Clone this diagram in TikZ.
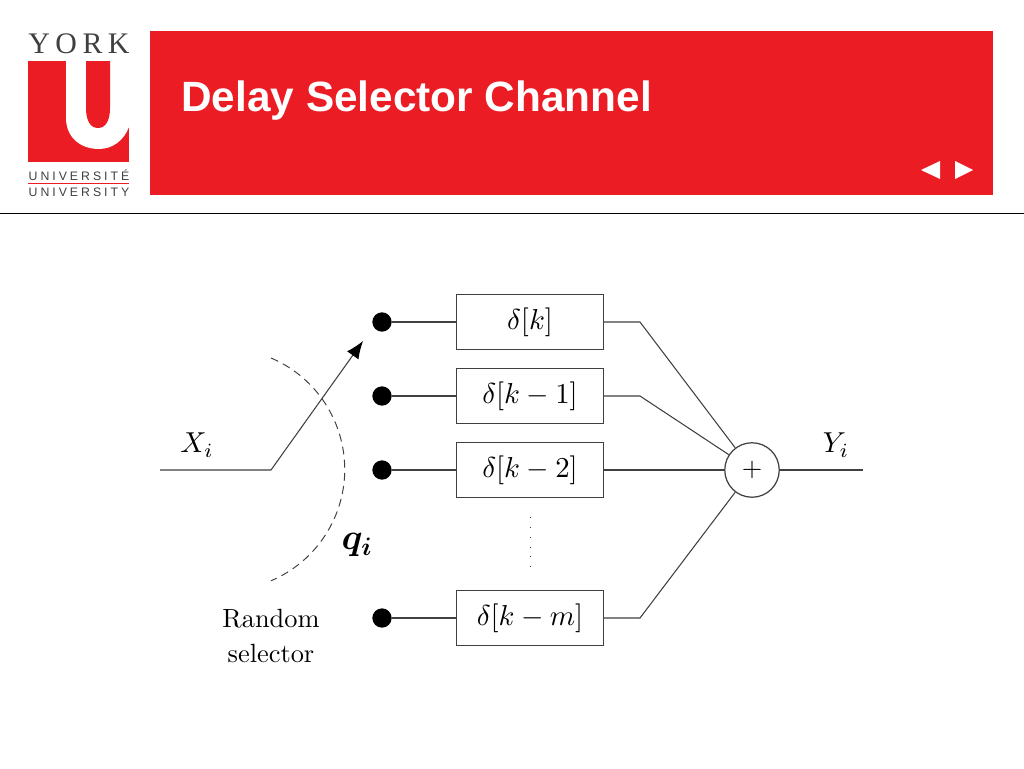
\documentclass[tikz,border=0pt]{standalone}
\usepackage{fontspec}
\setmainfont{Liberation Sans}
\newfontfamily\serifrm{lmroman10-regular}[Extension=.otf]
\newfontfamily\logorm{Liberation Serif}
\usetikzlibrary{arrows.meta,calc}
\definecolor{yorkred}{HTML}{EC1C24}
\definecolor{wire}{HTML}{404040}
\def\scaledmath#1#2{\scalebox{#1}{$#2$}}
\tikzset{
	wireline/.style={draw=wire, line width=0.6pt},
	delaybox/.style={draw=wire, line width=0.7pt, minimum width=83.4pt, minimum height=31pt, inner sep=0pt},
	tapdot/.style={circle, fill=black, minimum size=11pt, inner sep=0pt},
	sumnode/.style={circle, draw=wire, line width=0.7pt, minimum size=31pt, inner sep=0pt},
	mathlabel/.style={inner sep=0pt},
	logoline/.style={inner sep=0pt, text=black!75, font=\fontsize{7}{8}\selectfont}
}
\begin{document}
\begin{tikzpicture}[x=0.02cm, y=-0.02cm]
	\useasboundingbox (0,0) rectangle (1024,768);
	\fill[white] (0,0) rectangle (1024,768);

	% header
	\fill[yorkred] (150,31) rectangle (993,195);
	\node[anchor=base west, inner sep=0pt, text=white, font=\fontsize{24.1}{28}\selectfont\bfseries] (title) at (181,111) {Delay Selector Channel};
	\fill[white] (921,170) -- (940,161) -- (940,179) -- cycle;
	\fill[white] (973,170) -- (955,161) -- (955,179) -- cycle;
	\draw[black, line width=0.55pt] (0,213) -- (1024,213);

	% logo
	\node[inner sep=0pt, text=black!75, font=\fontsize{17}{20}\selectfont\logorm] (york) at (79,43.5) {\makebox[57.5pt][s]{Y\hfill O\hfill R\hfill K}};
	\fill[yorkred] (28,61) rectangle (129,162);
	\fill[white] (66,61) -- (66,118) .. controls (66,137) and (80,149) .. (99,149) .. controls (113,149) and (124,140) .. (129,127) -- (129,61) -- cycle;
	\fill[yorkred] (86,61) -- (86,108) .. controls (86,120) and (90,128) .. (98,128) .. controls (106,128) and (110,120) .. (110,108) -- (110,61) -- cycle;
	\node[logoline] (fr) at (79,175) {\makebox[57.3pt][s]{U\hfill N\hfill I\hfill V\hfill E\hfill R\hfill S\hfill I\hfill T\hfill É}};
	\draw[yorkred, line width=0.5pt] (28,183) -- (129,183);
	\node[logoline] (en) at (79,192.5) {\makebox[57.3pt][s]{U\hfill N\hfill I\hfill V\hfill E\hfill R\hfill S\hfill I\hfill T\hfill Y}};

	% delay lines
	\foreach \name/\ypos/\txt in {a/322/{\delta[k]}, b/396/{\delta[k-1]}, c/470/{\delta[k-2]}, d/618/{\delta[k-m]}}{
		\node[tapdot] (dot\name) at (382,\ypos) {};
		\node[delaybox] (box\name) at (530,\ypos) {\raisebox{-1pt}{\scaledmath{1.64}{\txt}}};
		\coordinate (knee\name) at (640,\ypos);
		\draw[wireline] (dot\name) -- (box\name);
	}
	\node[sumnode] (sum) at (752,470) {\raisebox{-1pt}{\scaledmath{1.5}{+}}};
	\foreach \name in {a,b,d}{
		\draw[wireline] (box\name) -- (knee\name) -- (sum);
	}
	\draw[wireline] (boxc) -- (sum);

	\coordinate (dotstop) at (530,517);
	\coordinate (dotsbot) at (530,569);
	\draw[wire, line width=0.5pt, dash pattern=on 0.6pt off 5pt] (dotstop) -- (dotsbot);

	% output
	\coordinate (yend) at (863,470);
	\draw[wireline] (sum) -- (yend);
	\node[mathlabel] (ylabel) at (836,445) {\scaledmath{1.64}{Y_i}};

	% switch
	\coordinate (xstart) at (160,470);
	\coordinate (xknee) at (271,470);
	\coordinate (xtip) at (363,341);
	\draw[wireline, -{Latex[length=10pt, width=8pt, color=black]}] (xstart) -- (xknee) -- (xtip);
	\node[mathlabel] (xlabel) at (197,445) {\scaledmath{1.64}{X_i}};

	\draw[wire, line width=0.55pt, dash pattern=on 4.5pt off 3pt] (271,358) arc[start angle=-67, end angle=67, radius=121];
	\node[inner sep=0pt, font=\fontsize{22}{24}\selectfont\boldmath] (qlabel) at (357,545) {$q_i$};

	\node[align=center, inner sep=0pt, font=\fontsize{15}{20.4}\selectfont\serifrm] (selector) at (271,636) {Random\\selector};
\end{tikzpicture}
\end{document}
